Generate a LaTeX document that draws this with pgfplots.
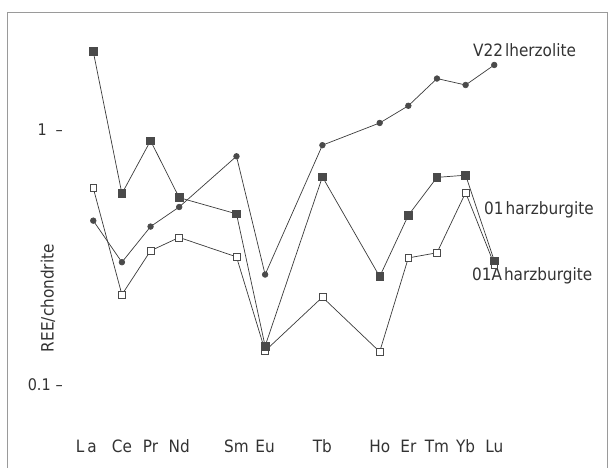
\documentclass[border=0pt]{standalone}
\usepackage{pgfplots}
\pgfplotsset{compat=1.18}
\usepackage{fontspec}
\setmainfont{DejaVu Sans}[FakeStretch=0.9]
\definecolor{ln}{HTML}{3A3A3A}
\definecolor{mk}{HTML}{4A4A4A}
\definecolor{frm}{HTML}{9A9A9A}
\definecolor{txt}{HTML}{333333}
\begin{document}
\begin{tikzpicture}
\begin{axis}[
  width=609pt, height=468pt, scale only axis,
  ymode=log,
  xmin=53.747, xmax=75.003,
  ymin=0.04724, ymax=3.234,
  axis line style={draw=none},
  major tick length=0pt, minor tick length=0pt,
  ytick={0.1,1}, yticklabels={0.1\hspace{5pt}\textendash, 1\hspace{9pt}\textendash},
  yticklabel style={anchor=east, inner sep=0pt, xshift=63pt, font=\fontsize{16}{18}\selectfont, text=txt},
  xtick={57,58,59,60,62,63,65,67,68,69,70,71},
  xticklabels={\hspace*{-14pt}L\hspace{3pt}a,Ce,Pr,Nd,Sm,Eu,Tb,Ho,Er,Tm,Yb,Lu},
  xticklabel style={anchor=base, inner sep=0pt, yshift=15pt, font=\fontsize{17}{19}\selectfont, text=txt},
  ylabel={REE/chondrite},
  ylabel style={at={(axis description cs:0.0788,0.363)}, anchor=center, font=\fontsize{17}{19}\selectfont, text=txt},
  clip=false,
]
\draw[frm, line width=0.8pt] (rel axis cs:0.0115,0) -- (rel axis cs:0.0115,0.9744) -- (rel axis cs:0.9967,0.9744) -- (rel axis cs:0.9967,0);

% O1A harzburgite (open squares)
\addplot[ln, line width=0.7pt, mark=square*, mark size=3.4pt, mark options={fill=white, draw=mk, line width=0.6pt}] coordinates {
(57,0.592) (58,0.226) (59,0.336) (60,0.379) (62,0.318) (63,0.136) (65,0.221) (67,0.135) (68,0.315) (69,0.330) (70,0.568) (71,0.297)};
% V22 lherzolite (circles)
\addplot[ln, line width=0.7pt, mark=*, mark size=2.8pt, mark options={fill=mk, draw=mk}] coordinates {
(57,0.441) (58,0.303) (59,0.418) (60,0.499) (62,0.789) (63,0.271) (65,0.872) (67,1.066) (68,1.245) (69,1.592) (70,1.502) (71,1.80)};
% O1 harzburgite (filled squares)
\addplot[ln, line width=0.7pt, mark=square*, mark size=3.8pt, mark options={fill=mk, draw=mk}] coordinates {
(57,2.03) (58,0.563) (59,0.908) (60,0.543) (62,0.469) (63,0.142) (65,0.655) (67,0.266) (68,0.463) (69,0.652) (70,0.665) (71,0.307)};

\node[anchor=west, inner sep=0pt, text=txt, font=\fontsize{17}{19}\selectfont] at (axis description cs:0.7767,0.8932) {V22\hspace{2pt}lherzolite};
\node[anchor=west, inner sep=0pt, text=txt, font=\fontsize{17}{19}\selectfont] at (axis description cs:0.7947,0.5513) {01\hspace{2pt}harzburgite};
\node[anchor=west, inner sep=0pt, text=txt, font=\fontsize{17}{19}\selectfont] at (axis description cs:0.7750,0.4103) {01A\hspace{2pt}harzburgite};
\end{axis}
\end{tikzpicture}
\end{document}
